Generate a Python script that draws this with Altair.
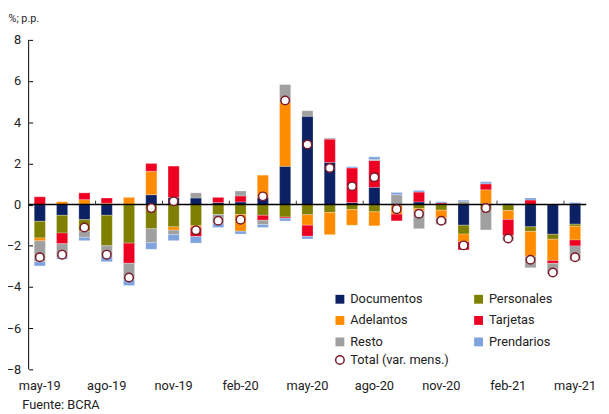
import altair as alt
import pandas as pd

meses = ["may-19", "jun-19", "jul-19", "ago-19", "sep-19", "oct-19", "nov-19", "dic-19",
         "ene-20", "feb-20", "mar-20", "abr-20", "may-20", "jun-20", "jul-20", "ago-20",
         "sep-20", "oct-20", "nov-20", "dic-20", "ene-21", "feb-21", "mar-21", "abr-21", "may-21"]

documentos = [-0.81, -0.52, -0.73, -0.52, 0.00, 0.48, 0.35, 0.32, 0.10, 0.13, 0.35, 1.86, 4.29,
              2.05, 0.10, 0.84, 0.00, 0.13, 0.00, -1.00, 0.05, 0.00, -1.08, -1.44, -0.95]
personales = [-0.81, -0.86, -0.56, -1.48, -1.87, -1.17, -1.08, -1.02, -0.48, -0.48, -0.52, -0.60, -0.49,
              -0.38, -0.24, -0.35, 0.00, -0.19, -0.27, -0.43, -0.25, -0.29, -0.22, -0.24, -0.10]
adelantos = [-0.14, 0.14, 0.24, 0.07, 0.35, 1.14, -0.16, -0.10, 0.00, -0.81, 1.08, 3.10, -0.51,
             -1.08, -0.76, -0.68, -0.46, -0.11, -0.37, -0.37, 0.67, -0.43, -1.21, -1.03, -0.67]
tarjetas = [0.38, -0.52, 0.33, 0.25, -0.98, 0.38, 1.52, -0.43, 0.25, 0.29, -0.24, -0.06, -0.54,
            1.13, 1.68, 1.30, -0.33, 0.48, 0.08, -0.40, 0.29, -0.79, 0.22, -0.14, -0.29]
resto = [-1.02, -0.65, -0.30, -0.50, -0.79, -0.68, -0.22, 0.25, -0.46, 0.24, -0.21, 0.87, 0.27,
         0.05, 0.00, 0.05, 0.48, -0.87, -0.32, 0.17, -0.98, -0.24, -0.56, -0.52, -0.70]
prendarios = [-0.20, -0.10, -0.16, -0.27, -0.29, -0.32, -0.29, -0.32, -0.17, -0.14, -0.14, -0.14, -0.13,
              0.00, 0.06, 0.13, 0.11, 0.08, 0.06, 0.05, 0.10, 0.06, 0.10, 0.03, 0.10]
total = [-2.56, -2.43, -1.11, -2.43, -3.54, -0.17, 0.16, -1.25, -0.78, -0.73, 0.40, 5.06, 2.92,
         1.78, 0.89, 1.33, -0.22, -0.44, -0.78, -1.98, -0.17, -1.65, -2.68, -3.30, -2.56]

series = ["Documentos", "Personales", "Adelantos", "Tarjetas", "Resto", "Prendarios"]
colores = ["#0b2163", "#7f7f00", "#ff8c00", "#ee0022", "#a0a0a0", "#7fa3df"]
total_label = "Total (var. mens.)"
y_ticks = [-8, -6, -4, -2, 0, 2, 4, 6, 8]

valores = [documentos, personales, adelantos, tarjetas, resto, prendarios]
rows = []
for i, m in enumerate(meses):
    for k, s in enumerate(series):
        v = valores[k][i]
        if v != 0:
            rows.append({"mes": m, "serie": s, "orden": k, "valor": v})
df = pd.DataFrame(rows)
df_tot = pd.DataFrame({"mes": meses, "total": total, "serie": [total_label] * len(meses)})
df_ticks = pd.DataFrame({"mes": meses[3::3]})

W, H = 567, 335
step = W / len(meses)
FONT = "Roboto"

xscale = alt.Scale(domain=meses, paddingInner=0.5, paddingOuter=0.25)
yscale = alt.Scale(domain=[-8, 8], nice=False)

xaxis = alt.Axis(values=meses[::3], title="Fuente: BCRA", titleX=-7, titleY=36,
                 titleAlign="left", titleBaseline="middle", titleFontSize=13,
                 titleFontWeight="normal", titleColor="#222", labelAngle=0, ticks=False,
                 domain=False, labelPadding=11, labelFontSize=13, labelColor="#222", grid=False)
yaxis = alt.Axis(values=y_ticks, title="%; p.p.", titleAngle=0, titleX=-25, titleY=-22,
                 titleAlign="left", titleBaseline="middle", titleFontSize=11,
                 titleFontWeight="normal", titleColor="#222", offset=-4, domain=False,
                 tickSize=4, tickColor="#000", labelPadding=8, labelFontSize=13,
                 labelColor="#222", grid=False)

bars = alt.Chart(df).mark_bar(stroke="white", strokeWidth=0.5, strokeOpacity=0.5).encode(
    x=alt.X("mes:N", scale=xscale, axis=xaxis),
    y=alt.Y("valor:Q", scale=yscale, axis=yaxis, stack="zero"),
    color=alt.Color("serie:N", scale=alt.Scale(domain=series, range=colores),
                    legend=alt.Legend(title=None, orient="none", legendX=310, legendY=257,
                                      direction="horizontal",
                                      columns=2, columnPadding=50, rowPadding=7.8,
                                      symbolType="square", symbolSize=81, symbolStrokeWidth=0,
                                      labelFontSize=13, labelColor="#222", labelOffset=4,
                                      padding=0)),
    order=alt.Order("orden:Q"),
)

zero = alt.Chart(pd.DataFrame({"y": [0]})).mark_rule(color="black", strokeWidth=1.5).encode(
    y=alt.Y("y:Q", scale=yscale)
)

ydomain = alt.Chart(pd.DataFrame({"a": [8], "b": [-8]})).mark_rule(color="black", strokeWidth=1).encode(
    x=alt.value(0), y=alt.Y("a:Q", scale=yscale), y2="b:Q"
)

xticks = alt.Chart(df_ticks).transform_calculate(z="0").mark_rule(
    color="#333", strokeWidth=1, xOffset=-step / 2, y2Offset=-4
).encode(
    x=alt.X("mes:N", scale=xscale),
    y=alt.Y("z:Q", scale=yscale),
    y2="z:Q",
)

pts = alt.Chart(df_tot).mark_point(shape="circle", filled=True, fill="white", size=75,
                                   strokeWidth=1.5, opacity=1).encode(
    x=alt.X("mes:N", scale=xscale),
    y=alt.Y("total:Q", scale=yscale),
    stroke=alt.Stroke("serie:N", scale=alt.Scale(domain=[total_label], range=["#7b1b2b"]),
                      legend=alt.Legend(title=None, orient="none", legendX=310, legendY=319,
                                        symbolType="circle", symbolSize=75,
                                        symbolFillColor="white", symbolStrokeWidth=1.5,
                                        labelFontSize=13, labelColor="#222", labelOffset=4,
                                        padding=0)),
)

chart = alt.layer(bars, zero, ydomain, xticks, pts).resolve_scale(
    color="independent", stroke="independent"
).properties(
    width=W, height=H,
    autosize=alt.AutoSizeParams(type="none"),
    padding={"left": 21, "top": 29, "right": 15, "bottom": 42},
).configure(font=FONT).configure_view(stroke=None)

chart.save("out.html", embed_options={"renderer": "svg", "actions": False})
